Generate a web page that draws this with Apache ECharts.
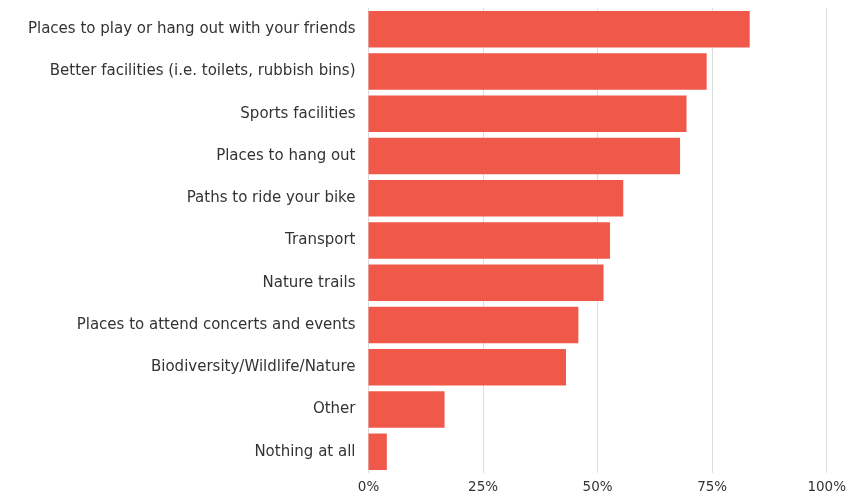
<!DOCTYPE html>
<html>
<head>
<meta charset="utf-8">
<script src="https://cdn.jsdelivr.net/npm/echarts@6/dist/echarts.min.js"></script>
<style>html,body{margin:0;padding:0;background:#fff}#c{width:849px;height:497px}</style>
</head>
<body>
<div id="c"></div>
<script>
const categories = [
  "Places to play or hang out with your friends",
  "Better facilities (i.e. toilets, rubbish bins)",
  "Sports facilities",
  "Places to hang out",
  "Paths to ride your bike",
  "Transport",
  "Nature trails",
  "Places to attend concerts and events",
  "Biodiversity/Wildlife/Nature",
  "Other",
  "Nothing at all"
];
const values = [83.2, 73.8, 69.4, 68.0, 55.6, 52.7, 51.3, 45.8, 43.1, 16.6, 4.0];
const tickValues = [0, 25, 50, 75, 100];

const chart = echarts.init(document.getElementById('c'));
chart.setOption({
  animation: false,
  grid: { left: 368.5, right: 20.7, top: 8.1, bottom: 24.1, containLabel: false },
  xAxis: {
    type: 'value', min: 0, max: 100, interval: 25,
    axisLine: { show: false }, axisTick: { show: false },
    splitLine: { show: true, lineStyle: { color: '#dcdcdc', width: 1 } },
    axisLabel: {
      color: '#333', fontSize: 13.5, fontFamily: 'DejaVu Sans', margin: 8,
      formatter: v => tickValues.includes(v) ? v + '%' : ''
    }
  },
  yAxis: {
    type: 'category', inverse: true, data: categories,
    axisLine: { show: false }, axisTick: { show: false },
    axisLabel: { color: '#333', fontSize: 15, fontFamily: 'DejaVu Sans', margin: 13, padding: [2, 0, 0, 0] }
  },
  series: [{
    type: 'bar', data: values, barCategoryGap: '13.6%',
    itemStyle: { color: '#F0584A' }
  }]
});
</script>
</body>
</html>
